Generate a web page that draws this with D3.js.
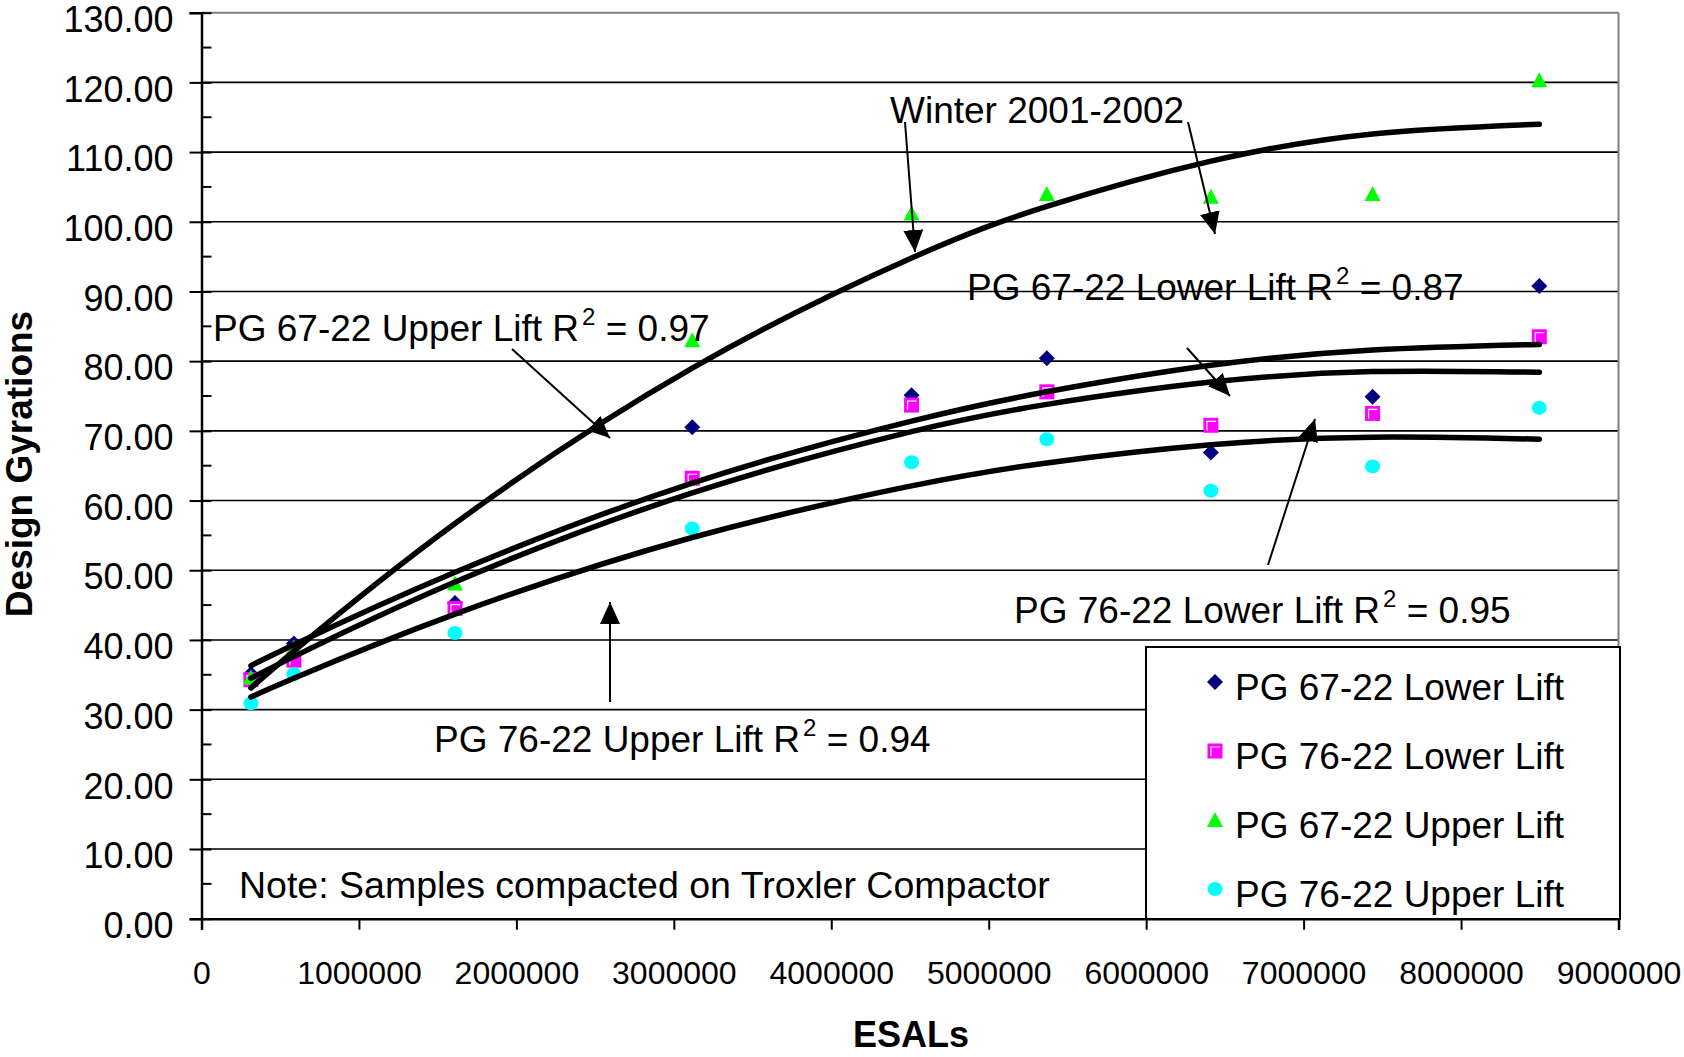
<!DOCTYPE html>
<html><head><meta charset="utf-8">
<script src="https://cdn.jsdelivr.net/npm/d3@7"></script>
<style>
body{margin:0;background:#fff}
svg{display:block}
text{font-family:"Liberation Sans",Arial,sans-serif;fill:#000}
</style>
</head><body>
<svg id="chart" width="1684" height="1057"></svg>
<script>
// ---------- data ----------
const esals = [314000, 587000, 1610000, 3117000, 4510000, 5369000, 6411000, 7438000, 8497000];
const seriesNames = ["PG 67-22 Lower Lift", "PG 76-22 Lower Lift", "PG 67-22 Upper Lift", "PG 76-22 Upper Lift"];
const lower6722 = [35.1, 39.5, 45.3, 70.5, 75.1, 80.4, 66.9, 74.9, 90.8];
const lower7622 = [34.3, 37.1, 44.5, 63.2, 73.7, 75.6, 70.8, 72.5, 83.5];
const upper6722 = [34.6, 38.9, 48.1, 83.0, 101.2, 104.0, 103.6, 104.0, 120.3];
const upper7622 = [30.9, 35.1, 41.0, 56.0, 65.5, 68.8, 61.4, 64.9, 73.3];
// trend lines (values at the data ESALs)
const trendUpper6722 = [33.1, 38.4, 56.7, 79.0, 94.8, 102.2, 108.7, 112.6, 114.0];
const trendLower6722 = [36.3, 39.3, 49.7, 62.5, 71.4, 75.6, 79.4, 81.6, 82.4];
const trendLower7622 = [34.5, 37.6, 48.3, 61.1, 69.9, 73.8, 77.0, 78.5, 78.4];
const trendUpper7622 = [31.8, 34.5, 43.7, 54.7, 62.1, 65.4, 68.0, 69.1, 68.8];
const yTickValues = [0, 10, 20, 30, 40, 50, 60, 70, 80, 90, 100, 110, 120, 130];
const yMinorValues = [5, 15, 25, 35, 45, 55, 65, 75, 85, 95, 105, 115, 125];
const xTickValues = [0, 1000000, 2000000, 3000000, 4000000, 5000000, 6000000, 7000000, 8000000, 9000000];
const annotations = [
  {pre: "PG 67-22 Upper Lift R", post: " = 0.97", x: 213, y: 341},
  {pre: "PG 67-22 Lower Lift R", post: " = 0.87", x: 967, y: 300},
  {pre: "PG 76-22 Lower Lift R", post: " = 0.95", x: 1014, y: 623},
  {pre: "PG 76-22 Upper Lift R", post: " = 0.94", x: 434, y: 752}
];

// ---------- layout ----------
const svg = d3.select("#chart");
const x = d3.scaleLinear().domain([0, 9000000]).range([201.5, 1618.5]);
const y = d3.scaleLinear().domain([0, 130]).range([918.7, 12.7]);
const FS = 37;

// gridlines
svg.append("g").selectAll("line").data(yTickValues.filter(v => v > 0 && v < 130)).join("line")
  .attr("x1", x(0)).attr("x2", x(9000000))
  .attr("y1", d => y(d)).attr("y2", d => y(d))
  .attr("stroke", "#000").attr("stroke-width", 1.6);
// gray frame top / right
svg.append("line").attr("x1", x(0)).attr("x2", x(9000000)).attr("y1", y(130)).attr("y2", y(130))
  .attr("stroke", "#808080").attr("stroke-width", 2);
svg.append("line").attr("x1", x(9000000)).attr("x2", x(9000000)).attr("y1", y(130)).attr("y2", y(0))
  .attr("stroke", "#808080").attr("stroke-width", 2);

// y axis
const yAxis = d3.axisLeft(y).tickValues(yTickValues).tickFormat(d3.format(".2f")).tickSize(12).tickPadding(16);
const gy = svg.append("g").attr("transform", `translate(${x(0)},0)`).call(yAxis);
gy.select(".domain").attr("stroke", "#000").attr("stroke-width", 2.5);
gy.selectAll(".tick line").attr("x1", 10).attr("x2", -12).attr("stroke", "#000").attr("stroke-width", 2);
gy.selectAll(".tick text").attr("font-size", 36).attr("font-family", "Liberation Sans, Arial, sans-serif")
  .attr("x", -28).attr("dy", "0.52em").attr("fill", "#000");
svg.append("g").selectAll("line").data(yMinorValues).join("line")
  .attr("x1", x(0)).attr("x2", x(0) + 10).attr("y1", d => y(d)).attr("y2", d => y(d))
  .attr("stroke", "#000").attr("stroke-width", 2);

// x axis
const xAxis = d3.axisBottom(x).tickValues(xTickValues).tickFormat(d3.format("d")).tickSize(11).tickPadding(32);
const gx = svg.append("g").attr("transform", `translate(0,${y(0)})`).call(xAxis);
gx.select(".domain").attr("stroke", "#000").attr("stroke-width", 2.5);
gx.selectAll(".tick line").attr("stroke", "#000").attr("stroke-width", 2);
gx.selectAll(".tick text").attr("font-size", 32).attr("font-family", "Liberation Sans, Arial, sans-serif").attr("fill", "#000");

// axis titles
svg.append("text").attr("x", 911).attr("y", 1047).attr("text-anchor", "middle")
  .attr("font-size", 36).attr("font-weight", "bold").text("ESALs");
svg.append("text").attr("transform", "translate(32,464) rotate(-90)").attr("text-anchor", "middle")
  .attr("font-size", FS).attr("font-weight", "bold").text("Design Gyrations");

// ---------- markers ----------
const colors = ["#000080", "#FF00FF", "#00FF00", "#00FFFF"];
function drawMarker(g, type, cx, cy) {
  if (type === 0) {
    g.append("path").attr("d", `M${cx},${cy-8}L${cx+8},${cy}L${cx},${cy+8}L${cx-8},${cy}Z`).attr("fill", colors[0]);
  } else if (type === 1) {
    g.append("rect").attr("x", cx-7.5).attr("y", cy-7.5).attr("width", 15).attr("height", 15).attr("fill", colors[1]);
    g.append("path").attr("d", `M${cx-4},${cy+5}V${cy-4}H${cx+5}`).attr("fill", "none").attr("stroke", "#fff").attr("stroke-width", 1.2);
  } else if (type === 2) {
    g.append("path").attr("d", `M${cx},${cy-8}L${cx+8},${cy+7}L${cx-8},${cy+7}Z`).attr("fill", colors[2]);
  } else {
    g.append("ellipse").attr("cx", cx).attr("cy", cy).attr("rx", 7.5).attr("ry", 7).attr("fill", colors[3]);
  }
}
const seriesData = [lower6722, lower7622, upper6722, upper7622];
const gm = svg.append("g");
seriesData.forEach((vals, si) => {
  vals.forEach((v, i) => drawMarker(gm, si, x(esals[i]), y(v)));
});

// ---------- trend lines ----------
const line = d3.line().x((d, i) => x(esals[i])).y(d => y(d)).curve(d3.curveNatural);
[trendUpper6722, trendLower6722, trendLower7622, trendUpper7622].forEach(t => {
  svg.append("path").attr("d", line(t)).attr("fill", "none").attr("stroke", "#000")
    .attr("stroke-width", 5.5).attr("stroke-linecap", "round");
});

// ---------- annotations ----------
svg.append("defs").append("marker").attr("id", "ah").attr("viewBox", "0 0 22 20")
  .attr("refX", 22).attr("refY", 10).attr("markerWidth", 22).attr("markerHeight", 20)
  .attr("markerUnits", "userSpaceOnUse").attr("orient", "auto")
  .append("path").attr("d", "M0,0L22,10L0,20Z").attr("fill", "#000");
const arrows = [
  [905, 122, 915, 252], [1188, 122, 1215, 234], [512, 349, 610, 438],
  [1187, 348, 1230, 396], [1268, 565, 1315, 419], [610, 702, 610, 602]
];
svg.append("g").selectAll("line").data(arrows).join("line")
  .attr("x1", d => d[0]).attr("y1", d => d[1]).attr("x2", d => d[2]).attr("y2", d => d[3])
  .attr("stroke", "#000").attr("stroke-width", 2).attr("marker-end", "url(#ah)");

svg.append("text").attr("x", 890).attr("y", 123).attr("font-size", FS).text("Winter 2001-2002");
annotations.forEach(a => {
  const t = svg.append("text").attr("x", a.x).attr("y", a.y).attr("font-size", FS);
  t.append("tspan").text(a.pre);
  t.append("tspan").attr("dx", 3).attr("dy", -16).attr("font-size", 24).text("2");
  t.append("tspan").attr("dy", 16).text(a.post);
});
svg.append("text").attr("x", 239).attr("y", 898).attr("font-size", 37.5).text("Note: Samples compacted on Troxler Compactor");

// ---------- legend ----------
const lg = svg.append("g");
lg.append("rect").attr("x", 1146).attr("y", 647).attr("width", 474).attr("height", 272)
  .attr("fill", "#fff").attr("stroke", "#000").attr("stroke-width", 2);
seriesNames.forEach((n, i) => {
  const by = 700 + i * 69;
  drawMarker(lg, i, 1215, by - 18);
  lg.append("text").attr("x", 1235).attr("y", by).attr("font-size", FS).text(n);
});
</script>
</body></html>
